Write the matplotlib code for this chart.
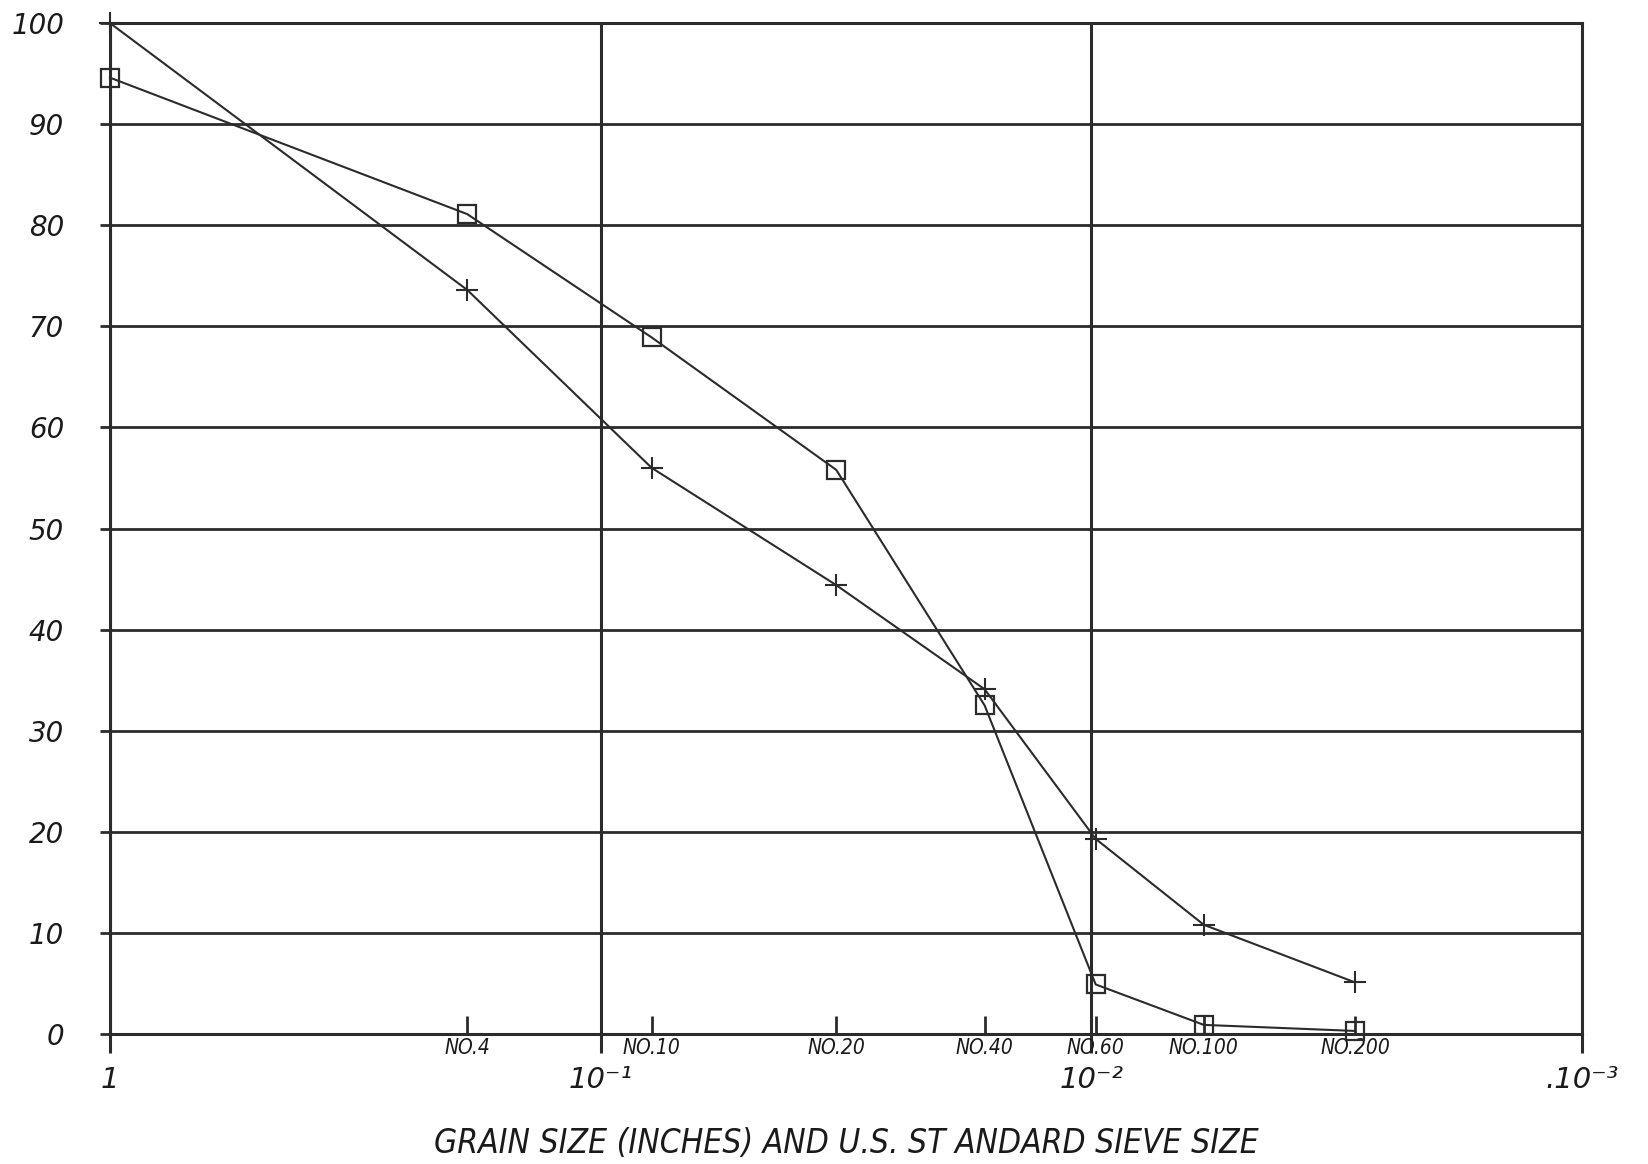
import matplotlib.pyplot as plt

# sieve openings in inches
sieve_names = ["NO.4", "NO.10", "NO.20", "NO.40", "NO.60", "NO.100", "NO.200"]
sieve_sizes = [0.187, 0.0787, 0.0331, 0.0165, 0.0098, 0.0059, 0.0029]

grain_x = [1.0] + sieve_sizes
square_y = [94.6, 81.1, 68.9, 55.8, 32.5, 4.9, 0.9, 0.3]
plus_y = [100.0, 73.6, 56.0, 44.4, 34.1, 19.3, 10.8, 5.1]

decades = [1.0, 0.1, 0.01, 0.001]
decade_labels = ["1", "10\u207b\u00b9", "10\u207b\u00b2", ".10\u207b\u00b3"]
y_ticks = list(range(0, 101, 10))

ink = "#2b2b2b"

fig = plt.figure(figsize=(16.48, 11.64), dpi=100)
ax = fig.add_axes([0.0667, 0.1117, 0.8933, 0.8685])

ax.set_xscale("log")
ax.set_xlim(1.0, 0.001)
ax.set_ylim(0, 100)

# grid
for v in y_ticks:
    ax.axhline(v, color=ink, lw=2.0, zorder=1)
for d in decades:
    ax.axvline(d, color=ink, lw=2.2, zorder=1)

ax.plot(grain_x, square_y, color=ink, lw=1.5, marker="s", markersize=13,
        markerfacecolor="none", markeredgewidth=1.6, zorder=3, clip_on=False)
ax.plot(grain_x, plus_y, color=ink, lw=1.5, marker="+", markersize=16,
        markeredgewidth=1.5, zorder=3, clip_on=False)

for s in ax.spines.values():
    s.set_color(ink)
    s.set_linewidth(2.2)

ax.set_yticks(y_ticks)
ax.set_yticklabels([str(v) for v in y_ticks], fontsize=20, style="italic",
                   family="DejaVu Sans")
ax.tick_params(axis="y", direction="out", length=7, width=2, color=ink,
               pad=26, labelcolor="#1a1a1a")

ax.set_xticks(decades)
ax.set_xticklabels(decade_labels, fontsize=21, style="italic",
                   family="DejaVu Sans")
ax.set_xticks(sieve_sizes, minor=True)
ax.set_xticklabels(sieve_names, minor=True, fontsize=15, style="italic",
                   family="DejaVu Sans", fontstretch="condensed")
ax.tick_params(axis="x", which="major", direction="out", length=14, width=2.2,
               color=ink, pad=9, labelcolor="#1a1a1a")
ax.tick_params(axis="x", which="minor", direction="in", length=13, width=2,
               color=ink, pad=3, labelcolor="#1a1a1a")

ax.set_xlabel("GRAIN SIZE (INCHES) AND U.S. ST ANDARD SIEVE SIZE",
              fontsize=24, style="italic", family="DejaVu Sans",
              fontstretch="condensed", color="#1a1a1a", labelpad=24)

fig.savefig("out.png", dpi=100, facecolor="white")
